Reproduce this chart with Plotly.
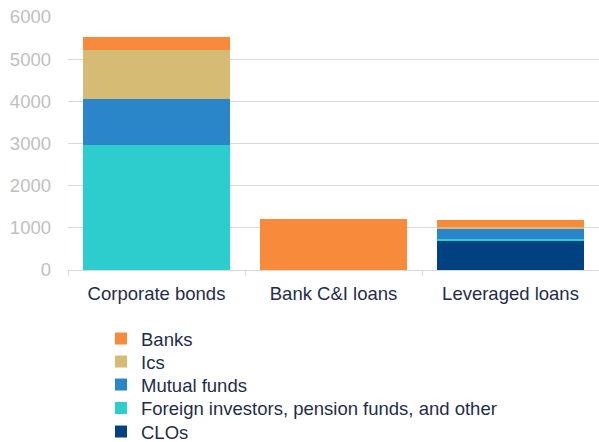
import plotly.graph_objects as go

categories = ["Corporate bonds", "Bank C&I loans", "Leveraged loans"]
clos = [0, 0, 690]
foreign = [2960, 0, 45]
mutual = [1090, 0, 230]
ics = [1175, 0, 60]
banks = [310, 1210, 160]
y_ticks = [0, 1000, 2000, 3000, 4000, 5000, 6000]

series = [
    ("CLOs", clos, "#004281"),
    ("Foreign investors, pension funds, and other", foreign, "#2ECDCD"),
    ("Mutual funds", mutual, "#2A85C9"),
    ("Ics", ics, "#D6BB75"),
    ("Banks", banks, "#F78A3B"),
]
# legend row centres (px from top), bottom series first
legend_rows = [432, 408.5, 385, 362, 339]

W, H = 599, 442
ML, MR, MT, MB = 68, 0, 17, 172
PW, PH = W - ML - MR, H - MT - MB
font_fam = "Arial, Liberation Sans, sans-serif"
fig = go.Figure()
layout_legends = {}
for i, ((name, vals, col), yrow) in enumerate(zip(series, legend_rows)):
    lg = "legend" if i == 0 else f"legend{i+1}"
    fig.add_trace(go.Bar(x=categories, y=vals, name=name, legend=lg,
                         marker=dict(color=col, line=dict(width=0))))
    layout_legends[lg] = dict(xref="paper", yref="paper",
                              x=(101 - ML) / PW, xanchor="left",
                              y=-(yrow - (MT + PH)) / PH, yanchor="middle",
                              font=dict(size=18.5, color="#1F2D4A", family=font_fam),
                              bgcolor="rgba(0,0,0,0)")

fig.update_layout(
    barmode="stack",
    bargap=0.17,
    width=W, height=H,
    margin=dict(l=ML, r=MR, t=MT, b=MB, autoexpand=False),
    paper_bgcolor="white", plot_bgcolor="white",
    font=dict(family=font_fam, size=18.5, color="#1F2D4A"),
    showlegend=True,
    xaxis=dict(showgrid=False, showline=True, linecolor="#D9D9D9", linewidth=1,
               ticks="outside", tickson="boundaries", ticklen=5, tickcolor="#D9D9D9",
               tickfont=dict(size=18.5, color="#1F2D4A"), automargin=False,
               ticklabelstandoff=7),
    yaxis=dict(range=[0, 6000], tickvals=y_ticks, showgrid=True, gridcolor="#D9D9D9",
               gridwidth=1, zeroline=False, showline=False, automargin=False,
               tickfont=dict(size=18.5, color="#BFBFBF"), ticklabelstandoff=16,
               ticklabeloverflow="allow"),
    **layout_legends,
)
fig.write_html("out.html",
               config={"displayModeBar": False},
               post_script="document.body.style.margin='0';document.body.style.overflow='hidden';")
